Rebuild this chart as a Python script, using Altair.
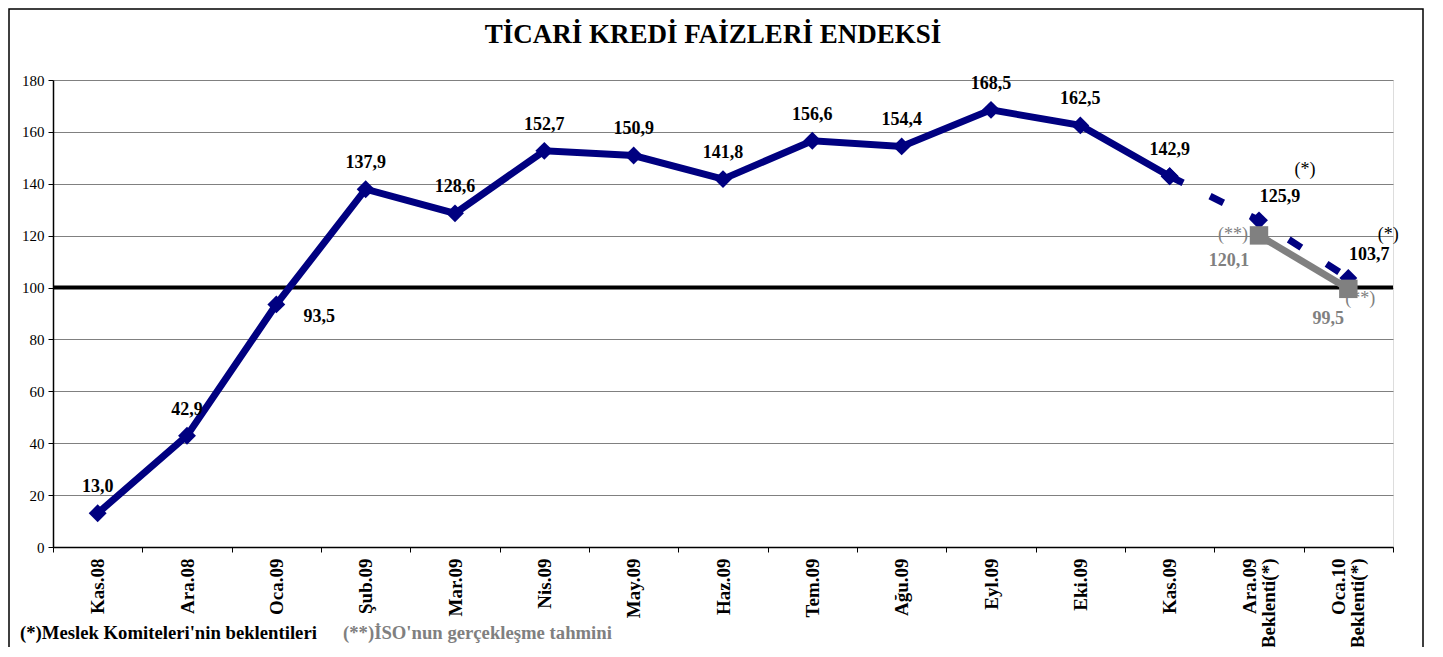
import altair as alt
import pandas as pd

months = ["Kas.08", "Ara.08", "Oca.09", "Şub.09", "Mar.09", "Nis.09", "May.09",
          "Haz.09", "Tem.09", "Ağu.09", "Eyl.09", "Eki.09", "Kas.09",
          "Ara.09\nBeklenti(*)", "Oca.10\nBeklenti(*)"]
actual_values = [13.0, 42.9, 93.5, 137.9, 128.6, 152.7, 150.9, 141.8, 156.6,
                 154.4, 168.5, 162.5, 142.9]
expect_months = months[12:]
expect_values = [142.9, 125.9, 103.7]
iso_months = months[13:]
iso_values = [120.1, 99.5]
reference_level = [100]
y_ticks = [0, 20, 40, 60, 80, 100, 120, 140, 160, 180]
title_text = "TİCARİ KREDİ FAİZLERİ ENDEKSİ"
note_expect = "(*)Meslek Komiteleri'nin beklentileri"
note_iso = "(**)İSO'nun gerçekleşme tahmini"
star_expect = "(*)"
star_iso = "(**)"

FONT = "Liberation Serif"
NAVY = "#000080"
GREY = "#808080"

actual = pd.DataFrame({"month": months[:13], "value": actual_values})
expect = pd.DataFrame({"month": expect_months, "value": expect_values})
iso = pd.DataFrame({"month": iso_months, "value": iso_values})
ref = pd.DataFrame({"level": reference_level})
one = pd.DataFrame({"k": [0]})

x_enc = alt.X(
    "month:N", sort=months,
    scale=alt.Scale(domain=months, type="band", paddingInner=0, paddingOuter=0),
    axis=alt.Axis(title=None, labelAngle=-90, labelFont=FONT, labelFontSize=19,
                  labelFontWeight="bold", labelColor="black",
                  labelExpr="split(datum.label, '\\n')", tickBand="extent",
                  domainColor="black", domainWidth=1.5, tickColor="black",
                  tickSize=5, labelPadding=6, labelLimit=0, labelOverlap=False,
                  grid=False, labelAlign="right", labelBaseline="middle",
                  labelLineHeight=19,
                  labelOffset={"condition": {"test": "indexof(datum.label, 'Beklenti') >= 0",
                                             "value": -10}, "value": 0}),
)
y_enc = alt.Y(
    "value:Q",
    scale=alt.Scale(domain=[0, 180], nice=False, zero=True),
    axis=alt.Axis(title=None, values=y_ticks, labelFont=FONT, labelFontSize=15,
                  labelColor="black", gridColor=GREY, gridWidth=1,
                  domainColor="black", domainWidth=1.5, tickColor="black",
                  tickSize=5, labelPadding=4),
)

fmt = "replace(format(datum.value, '.1f'), '.', ',')"

ref_rule = alt.Chart(ref).mark_rule(color="black", strokeWidth=4).encode(
    y=alt.Y("level:Q", scale=alt.Scale(domain=[0, 180], nice=False)))

actual_line = alt.Chart(actual).mark_line(color=NAVY, strokeWidth=7).encode(x=x_enc, y=y_enc)
expect_line = alt.Chart(expect).mark_line(color=NAVY, strokeWidth=7, strokeDash=[15, 30]).encode(x=x_enc, y=y_enc)
actual_pts = alt.Chart(actual).mark_point(shape="diamond", filled=True, color=NAVY, size=320, opacity=1).encode(x=x_enc, y=y_enc)
expect_pts = alt.Chart(expect).mark_point(shape="diamond", filled=True, color=NAVY, size=320, opacity=1).encode(x=x_enc, y=y_enc)
iso_line = alt.Chart(iso).mark_line(color=GREY, strokeWidth=7).encode(x=x_enc, y=y_enc)
iso_pts = alt.Chart(iso).mark_point(shape="square", filled=True, color=GREY, size=340, opacity=1).encode(x=x_enc, y=y_enc)

def lbl(df, dx, dy, color="black", weight="bold", text=None, size=18):
    base = alt.Chart(df).mark_text(font=FONT, fontSize=size, fontWeight=weight,
                                   color=color, dx=dx, dy=dy, baseline="middle")
    if text is None:
        return base.transform_calculate(lab=fmt).encode(x=x_enc, y=y_enc, text="lab:N")
    return base.encode(x=x_enc, y=y_enc, text=alt.value(text))

main_labels = lbl(actual[actual.month != "Oca.09"], 0, -26)
oca_label = lbl(actual[actual.month == "Oca.09"], 43, 13)
exp_labels = lbl(expect.iloc[1:], 21, -23)
iso_lab1 = lbl(iso.iloc[:1], -30, 26, color=GREY)
iso_lab2 = lbl(iso.iloc[1:], -20, 30, color=GREY)
iso_star1 = lbl(iso.iloc[:1], -26, 0, color=GREY, weight="normal", text=star_iso)
iso_star2 = lbl(iso.iloc[1:], 12, 10, color=GREY, weight="normal", text=star_iso)
exp_star1 = lbl(expect.iloc[1:2], 46, -50, weight="normal", text=star_expect)
exp_star2 = lbl(expect.iloc[2:3], 40, -43, weight="normal", text=star_expect)

title = alt.Chart(one).mark_text(font=FONT, fontSize=27, fontWeight="bold", color="black",
                                 align="center", baseline="middle").encode(
    x=alt.value(660), y=alt.value(-45), text=alt.value(title_text))
note1 = alt.Chart(one).mark_text(font=FONT, fontSize=18.7, fontWeight="bold", color="black",
                                 align="left", baseline="middle").encode(
    x=alt.value(-33), y=alt.value(553), text=alt.value(note_expect))
note2 = alt.Chart(one).mark_text(font=FONT, fontSize=18.7, fontWeight="bold", color=GREY,
                                 align="left", baseline="middle").encode(
    x=alt.value(290), y=alt.value(553), text=alt.value(note_iso))
frame = alt.Chart(one).mark_rect(filled=False, stroke="black", strokeWidth=1.5).encode(
    x=alt.value(-44), x2=alt.value(1370), y=alt.value(-71), y2=alt.value(620))

chart = alt.layer(
    frame, ref_rule, actual_line, expect_line, actual_pts, expect_pts, iso_line, iso_pts,
    main_labels, oca_label, exp_labels, iso_lab1, iso_lab2, iso_star1, iso_star2,
    exp_star1, exp_star2, title, note1, note2,
).properties(
    width=1340, height=467,
    autosize=alt.AutoSizeParams(type="none"),
    padding={"left": 45, "top": 72, "right": 32, "bottom": 100},
).configure_view(stroke=GREY, strokeWidth=1.5).configure_axis(
    labelFont=FONT
).configure(background="white")

chart.save("out.html", embed_options={"renderer": "svg", "actions": False})
